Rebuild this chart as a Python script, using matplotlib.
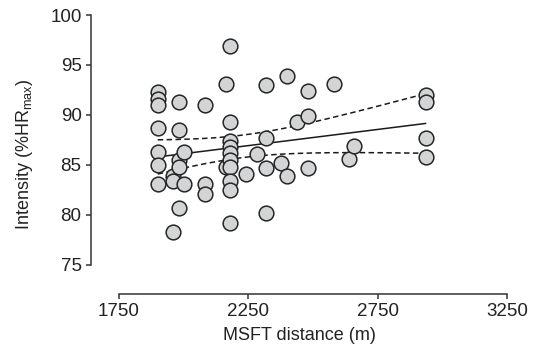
import numpy as np
import matplotlib
matplotlib.use("Agg")
import matplotlib.pyplot as plt

plt.rcParams['font.family'] = ['Liberation Sans', 'DejaVu Sans']
plt.rcParams['mathtext.fontset'] = 'custom'
plt.rcParams['mathtext.rm'] = 'Liberation Sans'

# MSFT distance (m) and intensity (%HRmax)
msft_distance = [1900, 1900, 1900, 1900, 1900, 1900, 1900,
                 1960, 1960, 1960,
                 1982, 1982, 1982, 1982, 1982,
                 2002, 2002,
                 2082, 2082, 2082,
                 2162, 2162,
                 2181, 2181, 2181, 2181, 2181, 2181, 2181, 2181, 2181, 2181,
                 2240, 2284,
                 2320, 2320, 2320, 2320,
                 2378,
                 2401, 2401,
                 2440,
                 2481, 2481, 2481,
                 2581, 2639, 2660,
                 2935, 2935, 2935, 2935]
intensity = [92.3, 91.6, 91.0, 88.7, 86.3, 85.0, 83.1,
             83.9, 83.4, 78.3,
             91.3, 88.5, 85.5, 84.8, 80.7,
             86.3, 83.1,
             91.0, 83.1, 82.1,
             93.1, 84.8,
             96.9, 89.3, 87.4, 86.8, 86.2, 85.5, 84.8, 83.4, 82.5, 79.2,
             84.1, 86.1,
             93.0, 87.7, 84.7, 80.2,
             85.2,
             93.9, 83.9,
             89.3,
             92.4, 89.9, 84.7,
             93.1, 85.6, 86.9,
             92.0, 91.3, 87.7, 85.8]

x_ticks = [1750, 2250, 2750, 3250]
y_ticks = [75, 80, 85, 90, 95, 100]

x = np.array(msft_distance, dtype=float)
y = np.array(intensity, dtype=float)
n = len(x)
slope, intercept = np.polyfit(x, y, 1)
xs = np.linspace(x.min(), x.max(), 200)
fit = intercept + slope * xs
resid = y - (intercept + slope * x)
s_err = np.sqrt(np.sum(resid ** 2) / (n - 2))
t_crit = 2.009
ci = t_crit * s_err * np.sqrt(1.0 / n + (xs - x.mean()) ** 2 / np.sum((x - x.mean()) ** 2))

fig = plt.figure(figsize=(5.38, 3.58), dpi=100)
ax = fig.add_axes([91 / 538, 64 / 358, (507 - 91) / 538, (343 - 64) / 358])

ax.plot(xs, fit, color='#1a1a1a', lw=1.1, zorder=1)
ax.plot(xs, fit + ci, color='#1a1a1a', lw=1.1, ls=(0, (3.6, 2.2)), zorder=1)
ax.plot(xs, fit - ci, color='#1a1a1a', lw=1.1, ls=(0, (3.6, 2.2)), zorder=1)
ax.scatter(x, y, s=112, facecolor='#d3d4d6', edgecolor='#262626', linewidths=1.1, zorder=3)

ax.set_xlim(1642, 3250)
ax.set_ylim(72.1, 100)
ax.set_xticks(x_ticks)
ax.set_yticks(y_ticks)
ax.spines['top'].set_visible(False)
ax.spines['right'].set_visible(False)
ax.spines['bottom'].set_bounds(1750, 3250)
ax.spines['left'].set_bounds(75, 100)
for sp in ('left', 'bottom'):
    ax.spines[sp].set_color('#333333')
    ax.spines[sp].set_linewidth(1.1)
ax.tick_params(direction='out', length=3.8, width=1.1, color='#333333',
               labelsize=13.5, labelcolor='#222222', pad=3)

ax.set_xlabel('MSFT distance (m)', fontsize=13, color='#222222', labelpad=5)
ax.set_ylabel('Intensity (%HR$_{\\mathregular{max}}$)', fontsize=13, color='#222222', labelpad=11)

fig.savefig('out.png', dpi=100)
